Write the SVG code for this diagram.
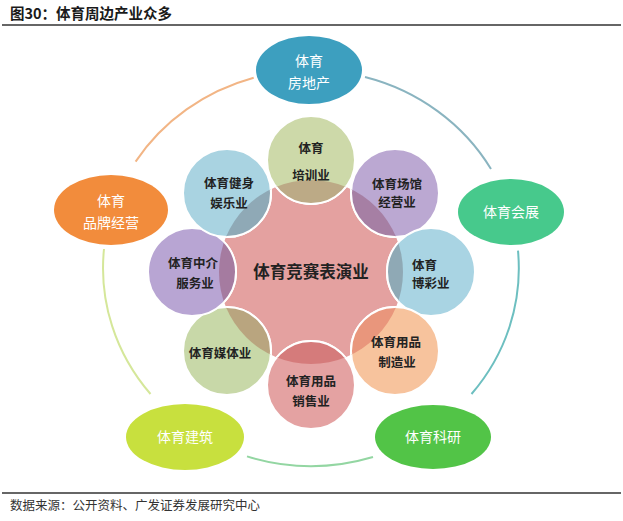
<svg xmlns="http://www.w3.org/2000/svg" width="623" height="521" viewBox="0 0 623 521">
<style>
.cjk{font-family:"Noto Sans CJK SC","Noto Sans",sans-serif}
.ttl{font-size:14.5px;font-weight:bold;fill:#1a1a1a}
.src{font-size:12.5px;fill:#333}
.pt{font-size:12.5px;font-weight:bold;fill:#222;text-anchor:middle}
.ot{font-size:14px;fill:#fff;text-anchor:middle}
.ring{fill:none;stroke-width:2}
.petal{stroke:#fff;stroke-width:2}
.rule{stroke:#333;stroke-width:1.4}
</style>
<defs>
<clipPath id="pinkClip">
<circle cx="311" cy="272" r="92"/>
</clipPath>
</defs>
<rect width="623" height="521" fill="#fff"/>
<text class="cjk ttl" x="10" y="19">图30：体育周边产业众多</text>
<line class="rule" x1="2" y1="25" x2="621" y2="25"/>

<g id="connectors">
<path class="ring" stroke="#f2b585" d="M253.7,77.7 A208,198 0 0 0 135.6,161.6"/>
<path class="ring" stroke="#d5e79a" d="M104,249 A208,198 0 0 0 150.5,394"/>
<path class="ring" stroke="#93d6a2" d="M247,456.4 A208,198 0 0 0 373,457"/>
<path class="ring" stroke="#6dbfc0" d="M518,250.7 A208,198 0 0 1 471.5,394"/>
<path class="ring" stroke="#8ab4c0" d="M365,77 A208,198 0 0 1 491,169"/>
</g>

<g id="outer-fangdichan">
<ellipse cx="309" cy="70" rx="53" ry="34" fill="#3d9fbf"/>
<text class="cjk ot" x="309" y="66">体育</text>
<text class="cjk ot" x="309" y="88">房地产</text>
</g>
<g id="outer-pinpai">
<ellipse cx="111" cy="210" rx="57" ry="35" fill="#f28c3c"/>
<text class="cjk ot" x="111" y="206">体育</text>
<text class="cjk ot" x="111" y="228">品牌经营</text>
</g>
<g id="outer-huizhan">
<ellipse cx="511" cy="212" rx="53" ry="33" fill="#47c98c"/>
<text class="cjk ot" x="511" y="217">体育会展</text>
</g>
<g id="outer-jianzhu">
<ellipse cx="185" cy="437" rx="59" ry="33" fill="#c8e03e"/>
<text class="cjk ot" x="185" y="442">体育建筑</text>
</g>
<g id="outer-keyan">
<ellipse cx="433" cy="437" rx="58" ry="32" fill="#52c447"/>
<text class="cjk ot" x="433" y="442">体育科研</text>
</g>

<g id="center">
<circle cx="311" cy="272" r="92" fill="#e4a1a0"/>
</g>

<g id="petal-peixun">
<circle class="petal" cx="311" cy="160" r="44" fill="#cdd9a9"/>
<circle class="petal" cx="311" cy="160" r="44" fill="#bcaa86" clip-path="url(#pinkClip)"/>
<text class="cjk pt" x="311" y="153">体育</text>
<text class="cjk pt" x="311" y="180">培训业</text>
</g>
<g id="petal-changguan">
<circle class="petal" cx="395" cy="193" r="44" fill="#bba8d2"/>
<circle class="petal" cx="395" cy="193" r="44" fill="#a67fa4" clip-path="url(#pinkClip)"/>
<text class="cjk pt" x="397" y="189">体育场馆</text>
<text class="cjk pt" x="397" y="207">经营业</text>
</g>
<g id="petal-bocai">
<circle class="petal" cx="431" cy="272" r="44" fill="#a9d4e3"/>
<circle class="petal" cx="431" cy="272" r="44" fill="#8fa9b5" clip-path="url(#pinkClip)"/>
<text class="cjk pt" x="412" y="270" style="text-anchor:start">体育</text>
<text class="cjk pt" x="412" y="288" style="text-anchor:start">博彩业</text>
</g>
<g id="petal-zhizao">
<circle class="petal" cx="395" cy="351" r="44" fill="#f7c39d"/>
<circle class="petal" cx="395" cy="351" r="44" fill="#e9967c" clip-path="url(#pinkClip)"/>
<text class="cjk pt" x="396" y="347">体育用品</text>
<text class="cjk pt" x="397" y="367">制造业</text>
</g>
<g id="petal-xiaoshou">
<circle class="petal" cx="311" cy="385" r="44" fill="#e4a2a2"/>
<circle class="petal" cx="311" cy="385" r="44" fill="#d57b7b" clip-path="url(#pinkClip)"/>
<text class="cjk pt" x="311" y="386">体育用品</text>
<text class="cjk pt" x="311" y="406">销售业</text>
</g>
<g id="petal-meiti">
<circle class="petal" cx="227" cy="351" r="44" fill="#c8d8a8"/>
<circle class="petal" cx="227" cy="351" r="44" fill="#b9a57f" clip-path="url(#pinkClip)"/>
<text class="cjk pt" x="220" y="358">体育媒体业</text>
</g>
<g id="petal-zhongjie">
<circle class="petal" cx="192" cy="272" r="44" fill="#b8a5d3"/>
<circle class="petal" cx="192" cy="272" r="44" fill="#a57ba0" clip-path="url(#pinkClip)"/>
<text class="cjk pt" x="193" y="268">体育中介</text>
<text class="cjk pt" x="195" y="288">服务业</text>
</g>
<g id="petal-jianshen">
<circle class="petal" cx="227" cy="193" r="44" fill="#a9d3e1"/>
<circle class="petal" cx="227" cy="193" r="44" fill="#8fa9b6" clip-path="url(#pinkClip)"/>
<text class="cjk pt" x="229" y="188">体育健身</text>
<text class="cjk pt" x="229" y="208">娱乐业</text>
</g>

<g id="center-label">
<text class="cjk" x="311" y="278" font-size="16.5" font-weight="bold" fill="#222" text-anchor="middle">体育竞赛表演业</text>
</g>

<line class="rule" x1="2" y1="493" x2="621" y2="493"/>
<text class="cjk src" x="10" y="510">数据来源：公开资料、广发证券发展研究中心</text>
</svg>
